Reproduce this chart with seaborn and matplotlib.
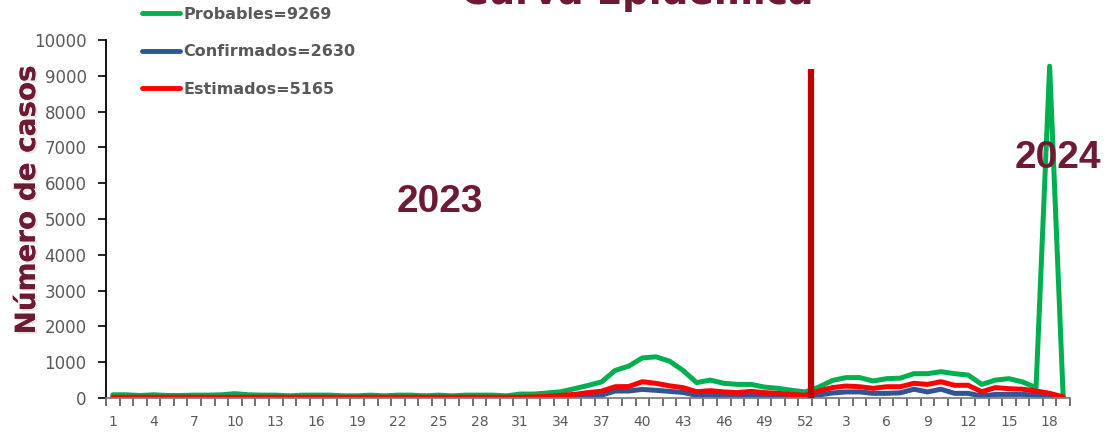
import numpy as np
import pandas as pd
import seaborn as sns
import matplotlib
matplotlib.use("Agg")
import matplotlib.pyplot as plt
import matplotlib.patheffects as pe

# Epidemiological weeks: all of 2023, then 2024 up to week 19
weeks_2023 = list(range(1, 53))
weeks_2024 = list(range(1, 20))

probables_2023 = [90, 90, 70, 90, 70, 70, 80, 80, 90, 120,
                  90, 80, 80, 60, 80, 80, 80, 60, 60, 80,
                  60, 80, 80, 60, 80, 60, 80, 80, 80, 60,
                  110, 110, 140, 175, 260, 350, 450, 770, 890, 1120,
                  1150, 1030, 770, 430, 500, 410, 380, 380, 305, 270,
                  215, 170]
probables_2024 = [305, 490, 570, 570, 475, 540, 555, 680, 680, 735,
                  680, 640, 380, 500, 540, 450, 290, 9269, 0]

confirmados_2023 = [5] * 31 + [10, 15, 25, 40, 50, 80, 195, 195, 240,
                               215, 185, 155, 75, 85, 50, 55, 75, 50, 50,
                               40, 30]
confirmados_2024 = [85, 140, 170, 170, 130, 130, 145, 245, 170, 245,
                    130, 130, 55, 100, 100, 100, 80, 40, 0]

estimados_2023 = [20] * 31 + [30, 45, 75, 100, 150, 190, 315, 320, 455,
                              410, 340, 290, 175, 205, 170, 150, 185, 150, 130,
                              100, 75]
estimados_2024 = [195, 290, 335, 315, 270, 315, 315, 410, 380, 455,
                  355, 355, 175, 290, 260, 245, 195, 130, 30]

series_names = ["Probables=9269", "Confirmados=2630", "Estimados=5165"]
series_colors = ["#00B050", "#2F5597", "#FF0000"]
separator_height = 9200  # year divider bar

week_labels = [str(w) for w in weeks_2023 + weeks_2024]
n = len(week_labels)

df = pd.DataFrame({
    "idx": list(range(n)) * 3,
    "casos": probables_2023 + probables_2024
             + confirmados_2023 + confirmados_2024
             + estimados_2023 + estimados_2024,
    "serie": [series_names[0]] * n + [series_names[1]] * n + [series_names[2]] * n,
})

MAROON = "#6D1A33"
GRAY = "#595959"

sns.set_style("white")
plt.rcParams["font.family"] = ["DejaVu Sans"]

fig = plt.figure(figsize=(11.07, 4.34), dpi=100)
ax = fig.add_axes([106 / 1107, 1 - 398 / 434, (1070 - 106) / 1107, (398 - 40) / 434])

sns.lineplot(data=df, x="idx", y="casos", hue="serie", hue_order=series_names,
             palette=dict(zip(series_names, series_colors)), linewidth=3.6,
             ax=ax, legend=True)

# divider between 2023 and 2024
ax.vlines(len(weeks_2023) - 0.6, 0, separator_height, color="#C00000", linewidth=4.5, zorder=5)

ax.set_xlim(-0.5, n - 0.5)
ax.set_ylim(0, 10000)
ax.set_yticks(range(0, 10001, 1000))
ax.tick_params(axis="y", labelsize=12, labelcolor=GRAY, left=True, length=6, width=1.2, color="black", pad=8)
ax.set_xticks(range(0, n, 3))
ax.set_xticklabels(week_labels[::3])
ax.set_xticks(np.arange(-0.5, n, 1), minor=True)
ax.tick_params(axis="x", which="major", length=0, labelsize=10, labelcolor=GRAY, pad=12)
ax.tick_params(axis="x", which="minor", bottom=True, length=6, width=1.2, color="#595959")
for s in ["top", "right"]:
    ax.spines[s].set_visible(False)
for s in ["left", "bottom"]:
    ax.spines[s].set_color("black")
    ax.spines[s].set_linewidth(1.3)
ax.spines["bottom"].set_color("#7f7f7f")
ax.set_xlabel("")
ax.set_ylabel("")

fig.text(27 / 1107, 1 - 200 / 434, "Número de casos", rotation=90, ha="center", va="center",
         fontsize=20, fontweight="bold", color=MAROON,
         path_effects=[pe.withSimplePatchShadow(offset=(1.5, -1.5), shadow_rgbFace="#bbbbbb", alpha=0.35),
                       pe.Normal()])

fig.text(440 / 1107, 1 - 202 / 434, "2023", ha="center", va="center", fontsize=28,
         fontweight="bold", color=MAROON, family="Liberation Sans")
fig.text(1058 / 1107, 1 - 158 / 434, "2024", ha="center", va="center", fontsize=28,
         fontweight="bold", color=MAROON, family="Liberation Sans")

# title sits mostly above the canvas, as in the source slide
fig.text(637 / 1107, 1 - 4 / 434, "Curva Epidémica", ha="center", va="baseline", fontsize=27,
         fontweight="bold", color=MAROON)

handles, labels = ax.get_legend_handles_labels()
ax.get_legend().remove()
leg = fig.legend(handles, labels, loc="upper left", bbox_to_anchor=(142 / 1107, 1 - 7 / 434),
                 frameon=False, fontsize=11.5, handlelength=2.4, handletextpad=0.2,
                 labelspacing=1.4, borderpad=0, borderaxespad=0)
for t in leg.get_texts():
    t.set_color(GRAY)
    t.set_fontweight("bold")
for h in leg.legend_handles:
    h.set_linewidth(3.5)

fig.savefig("out.png", dpi=100)
